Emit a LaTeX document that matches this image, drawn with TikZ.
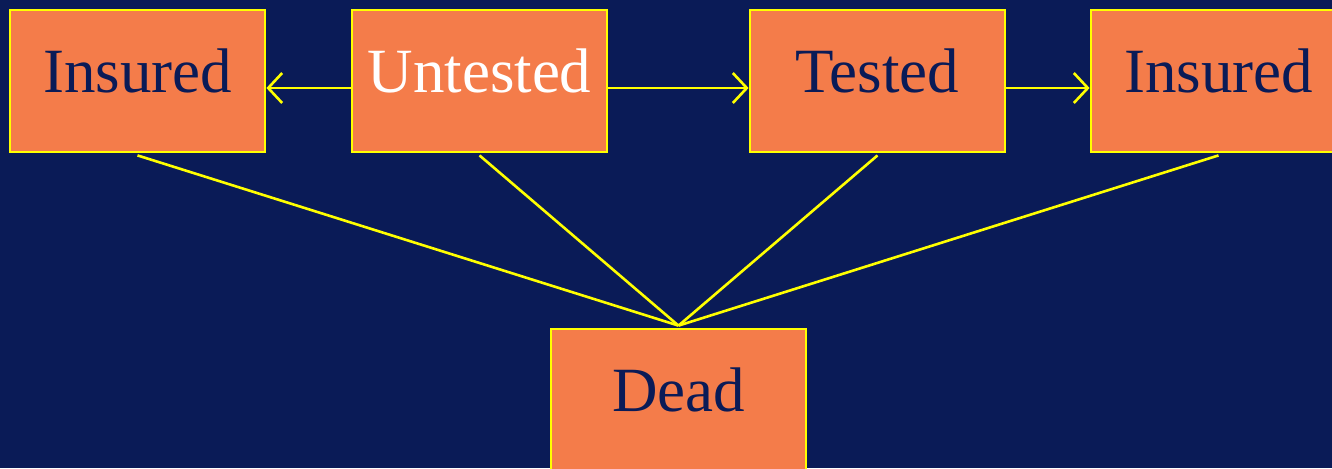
\documentclass[tikz,border=0pt]{standalone}
\usepackage{fontspec}
\setmainfont{Liberation Serif}
\usetikzlibrary{arrows.meta}
\definecolor{navy}{HTML}{0A1B57}
\definecolor{salmon}{HTML}{F47C4A}
\definecolor{gelb}{HTML}{FFFF00}

\begin{document}
\begin{tikzpicture}[x=0.5pt,y=-0.5pt,>={Straight Barb[length=7pt,width=15pt]},
  state/.style={draw=gelb,line width=1.4pt,fill=salmon,text=navy,inner sep=0pt,
    minimum width=127.5pt,minimum height=71pt,text height=21pt,text depth=10pt,
    font=\fontsize{31.5}{36}\selectfont},
  link/.style={gelb,line width=1.3pt}]
  \useasboundingbox (0,0) rectangle (1332,468);
  \fill[navy] (0,0) rectangle (1332,468);
  \clip (0,0) rectangle (1332,468);
  \node[state] (ins1) at (137.5,81) {Insured};
  \node[state,text=white] (unt) at (479.5,81) {Untested};
  \node[state] (tst) at (877.5,81) {Tested};
  \node[state] (ins2) at (1218.5,81) {Insured};
  \node[state] (dead) at (678.5,400) {Dead};
  % transitions
  \draw[link,->] ([yshift=-3.5pt]unt.west) -- ([yshift=-3.5pt]ins1.east);
  \draw[link,->] ([yshift=-3.5pt]unt.east) -- ([yshift=-3.5pt]tst.west);
  \draw[link,->] ([yshift=-3.5pt]tst.east) -- ([yshift=-3.5pt]ins2.west);
  \foreach \s in {ins1,unt,tst,ins2}
    \draw[link] ([yshift=-1pt]\s.south) -- ([yshift=1pt]dead.north);
\end{tikzpicture}
\end{document}
